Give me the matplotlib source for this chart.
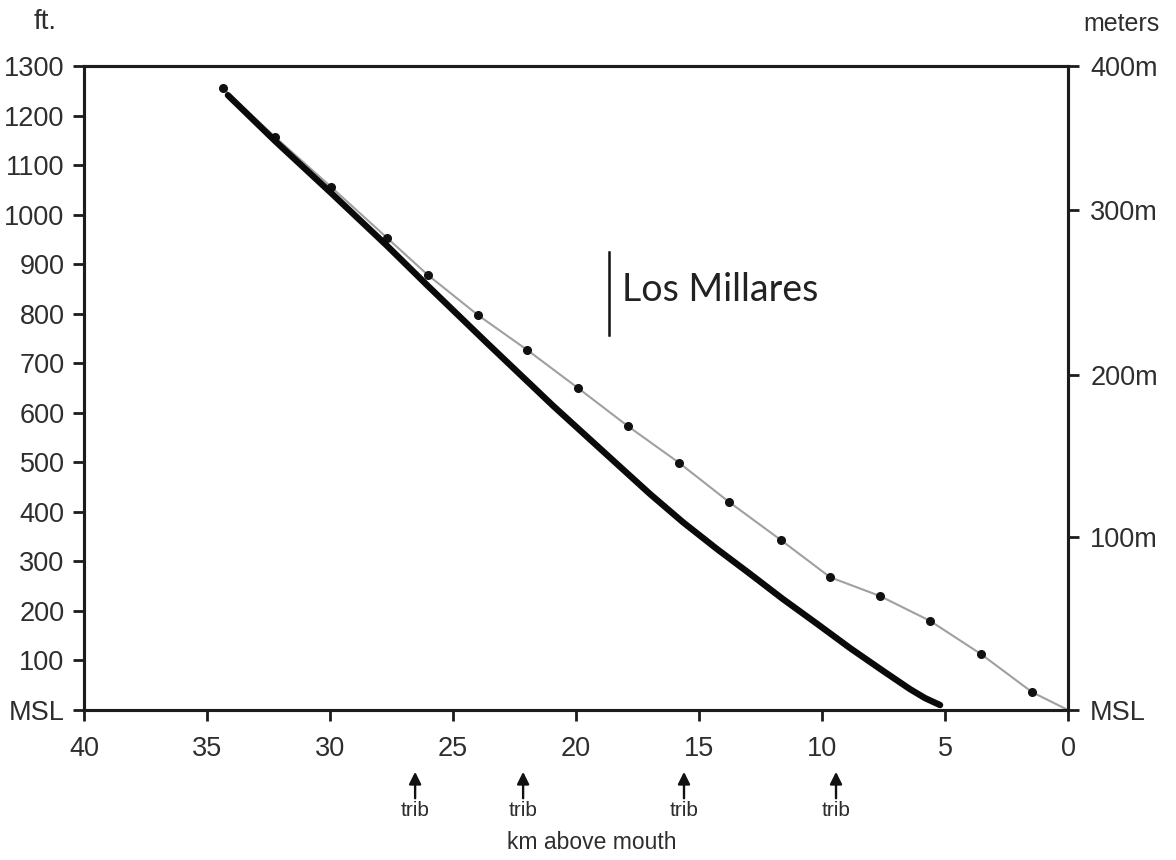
import matplotlib
matplotlib.use("Agg")
from matplotlib import pyplot as plt

# surveyed channel profile (grey line with dots)
survey_km = [34.35, 32.24, 29.96, 27.68, 26.02, 23.98, 21.99, 19.92, 17.89,
             15.81, 13.78, 11.67, 9.67, 7.64, 5.61, 3.54, 1.46, 0.0]
survey_ft = [1255, 1157, 1056, 953, 878, 797, 727, 650, 573,
             499, 420, 343, 268, 230, 180, 113, 36, 0]

# modelled profile (thick black line)
model_km = [34.15, 32.24, 29.96, 27.68, 26.02, 23.62, 20.93, 18.21, 16.99,
            15.65, 14.27, 12.93, 11.59, 10.20, 8.86, 7.52, 6.42, 5.81, 5.20]
model_ft = [1241, 1149, 1044, 937, 856, 741, 614, 491, 436,
            379, 325, 275, 224, 174, 125, 79, 42, 24, 10]

trib_km = [26.54, 22.15, 15.61, 9.43]

site_km = 18.66
site_ft = (757, 924)

ft_ticks = list(range(0, 1301, 100))
ft_labels = ["MSL"] + [str(v) for v in ft_ticks[1:]]
m_ticks = [0, 349, 676, 1009, 1300]
m_labels = ["MSL", "100m", "200m", "300m", "400m"]
km_ticks = [40, 35, 30, 25, 20, 15, 10, 5, 0]

font = ["Liberation Sans", "DejaVu Sans"]
ink = "#1c1c1c"
txt = "#2e2e2e"

fig = plt.figure(figsize=(11.76, 8.6), dpi=100)
ax = fig.add_axes([84 / 1176, 1 - 710 / 860, 984 / 1176, 644 / 860])

ax.plot(survey_km, survey_ft, color="#a0a0a0", lw=1.5, zorder=2)
ax.plot(survey_km[:-1], survey_ft[:-1], "o", color="#111111", ms=5.5, zorder=3)
ax.plot(model_km, model_ft, color="#0a0a0a", lw=4.6, solid_capstyle="round",
        solid_joinstyle="round", zorder=4)

ax.plot([site_km, site_km], site_ft, color="#111111", lw=1.8)
ax.text(18.13, 848, "Los Millares", fontsize=27, family=["Lato", "DejaVu Sans"],
        color="#222222", ha="left", va="center")

ax.set_xlim(40, 0)
ax.set_ylim(0, 1300)
ax.set_xticks(km_ticks)
ax.set_xticklabels([str(v) for v in km_ticks])
ax.set_yticks(ft_ticks)
ax.set_yticklabels(ft_labels)

for side in ax.spines.values():
    side.set_linewidth(2.2)
    side.set_color(ink)
ax.tick_params(direction="out", length=8, width=2, colors=ink, labelcolor=txt)
ax.tick_params(axis="x", pad=11)
ax.tick_params(axis="y", pad=6)
for lab in ax.get_xticklabels() + ax.get_yticklabels():
    lab.set_family(font)
    lab.set_fontsize(19.5)

ax2 = ax.twinx()
ax2.set_ylim(0, 1300)
ax2.set_yticks(m_ticks)
ax2.set_yticklabels(m_labels)
ax2.tick_params(direction="out", length=8, width=2, colors=ink, labelcolor=txt, pad=8)
for side in ax2.spines.values():
    side.set_linewidth(2.2)
    side.set_color(ink)
for lab in ax2.get_yticklabels():
    lab.set_family(font)
    lab.set_fontsize(19.5)

xt = ax.get_xaxis_transform()
for k in trib_km:
    ax.annotate("", xy=(k, -0.096), xytext=(k, -0.137), xycoords=xt, textcoords=xt,
                arrowprops=dict(arrowstyle="-|>", color="#111111", lw=1.7,
                                mutation_scale=18, shrinkA=0, shrinkB=0),
                annotation_clip=False)
    ax.text(k, -0.156, "trib", transform=xt, ha="center", va="center",
            fontsize=15, family=font, color=txt)

ax.text(0.516, -0.2065, "km above mouth", transform=ax.transAxes, ha="center",
        va="center", fontsize=16.5, family=font, color=txt)

fig.text(45 / 1176, 1 - 22 / 860, "ft.", fontsize=20, family=font,
         color=txt, ha="center", va="center")
fig.text(1121 / 1176, 1 - 24 / 860, "meters", fontsize=18, family=font,
         color=txt, ha="center", va="center")

fig.savefig("out.png", dpi=100, facecolor="white")
